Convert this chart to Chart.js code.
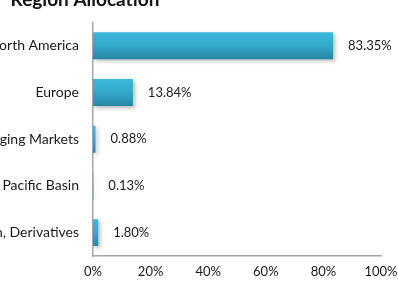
<!DOCTYPE html>
<html lang="en">
<head>
    <meta charset="UTF-8">
    <title>Region Allocation</title>
    <script src="https://cdn.jsdelivr.net/npm/chart.js"></script>
    <style>
        html, body { margin: 0; padding: 0; background: #fff; overflow: hidden; }
        #wrap { position: relative; width: 398px; height: 281px; }
    </style>
</head>
<body>
    <div id="wrap"><canvas id="regionChart"></canvas></div>

    <script>
        const chartTitle = "Region Allocation";
        const regions = ["North America", "Europe", "Emerging Markets", "Pacific Basin", "Cash, Derivatives"];
        const allocation = [83.35, 13.84, 0.88, 0.13, 1.80];
        const xTicks = [0, 20, 40, 60, 80, 100];

        const FONT = "Lato, 'Noto Sans', sans-serif";

        // vertical gradient per bar, like the excel style
        function barFill(c) {
            const chart = c.chart;
            const yScale = chart.scales.y;
            if (!yScale || c.dataIndex === undefined) return "#33a9cb";
            const mid = yScale.getPixelForValue(c.dataIndex);
            if (!isFinite(mid)) return "#33a9cb";
            const g = chart.ctx.createLinearGradient(0, mid - 14, 0, mid + 14);
            g.addColorStop(0, "#3bb8db");
            g.addColorStop(0.5, "#33a9cb");
            g.addColorStop(1, "#2785a3");
            return g;
        }

        const barShadow = {
            id: "barShadow",
            beforeDatasetDraw(chart) {
                const ctx = chart.ctx;
                ctx.save();
                ctx.shadowColor = "rgba(0,0,0,0.28)";
                ctx.shadowBlur = 4;
                ctx.shadowOffsetX = 2;
                ctx.shadowOffsetY = 2;
            },
            afterDatasetDraw(chart) {
                chart.ctx.restore();
            }
        };

        const valueLabels = {
            id: "valueLabels",
            afterDatasetsDraw(chart) {
                const ctx = chart.ctx;
                const meta = chart.getDatasetMeta(0);
                ctx.save();
                ctx.font = "13px " + FONT;
                ctx.fillStyle = "#1a1a1a";
                ctx.textAlign = "left";
                ctx.textBaseline = "middle";
                meta.data.forEach((bar, i) => {
                    ctx.fillText(allocation[i].toFixed(2) + "%", bar.x + 15, bar.y);
                });
                ctx.restore();
            }
        };

        // title sits partly above the visible frame
        const topTitle = {
            id: "topTitle",
            afterDraw(chart) {
                const ctx = chart.ctx;
                ctx.save();
                ctx.font = "bold 19px " + FONT;
                ctx.fillStyle = "#111";
                ctx.textAlign = "center";
                ctx.textBaseline = "alphabetic";
                ctx.fillText(chartTitle, 85, 6);
                ctx.restore();
            }
        };

        window.onload = function () {
            const ctx = document.getElementById("regionChart").getContext("2d");
            new Chart(ctx, {
                type: "bar",
                data: {
                    labels: regions,
                    datasets: [{
                        label: chartTitle,
                        data: allocation,
                        backgroundColor: barFill,
                        borderWidth: 0,
                        barPercentage: 0.72,
                        categoryPercentage: 0.8
                    }]
                },
                options: {
                    indexAxis: "y",
                    responsive: true,
                    maintainAspectRatio: false,
                    animation: false,
                    layout: { padding: { top: 22, right: 17, left: 0, bottom: 0 } },
                    plugins: {
                        legend: { display: false },
                        title: { display: false },
                        tooltip: { enabled: false }
                    },
                    scales: {
                        x: {
                            min: 0,
                            max: 100,
                            afterBuildTicks: s => { s.ticks = xTicks.map(v => ({ value: v })); },
                            afterFit: s => { s.height = 25; s.paddingLeft = 0; s.paddingRight = 0; },
                            grid: { display: false, drawTicks: false },
                            border: { display: true, color: "#a6a6a6", width: 1.5 },
                            ticks: {
                                padding: 8,
                                color: "#1a1a1a",
                                font: { family: FONT, size: 13 },
                                maxRotation: 0,
                                callback: v => v + "%"
                            }
                        },
                        y: {
                            afterFit: s => { s.width = 93; },
                            grid: { display: false, drawTicks: false },
                            border: { display: true, color: "#a6a6a6", width: 1.5 },
                            ticks: {
                                padding: 14,
                                color: "#1a1a1a",
                                autoSkip: false,
                                font: { family: FONT, size: 14 }
                            }
                        }
                    }
                },
                plugins: [barShadow, valueLabels, topTitle]
            });
        };
    </script>
</body>
</html>
